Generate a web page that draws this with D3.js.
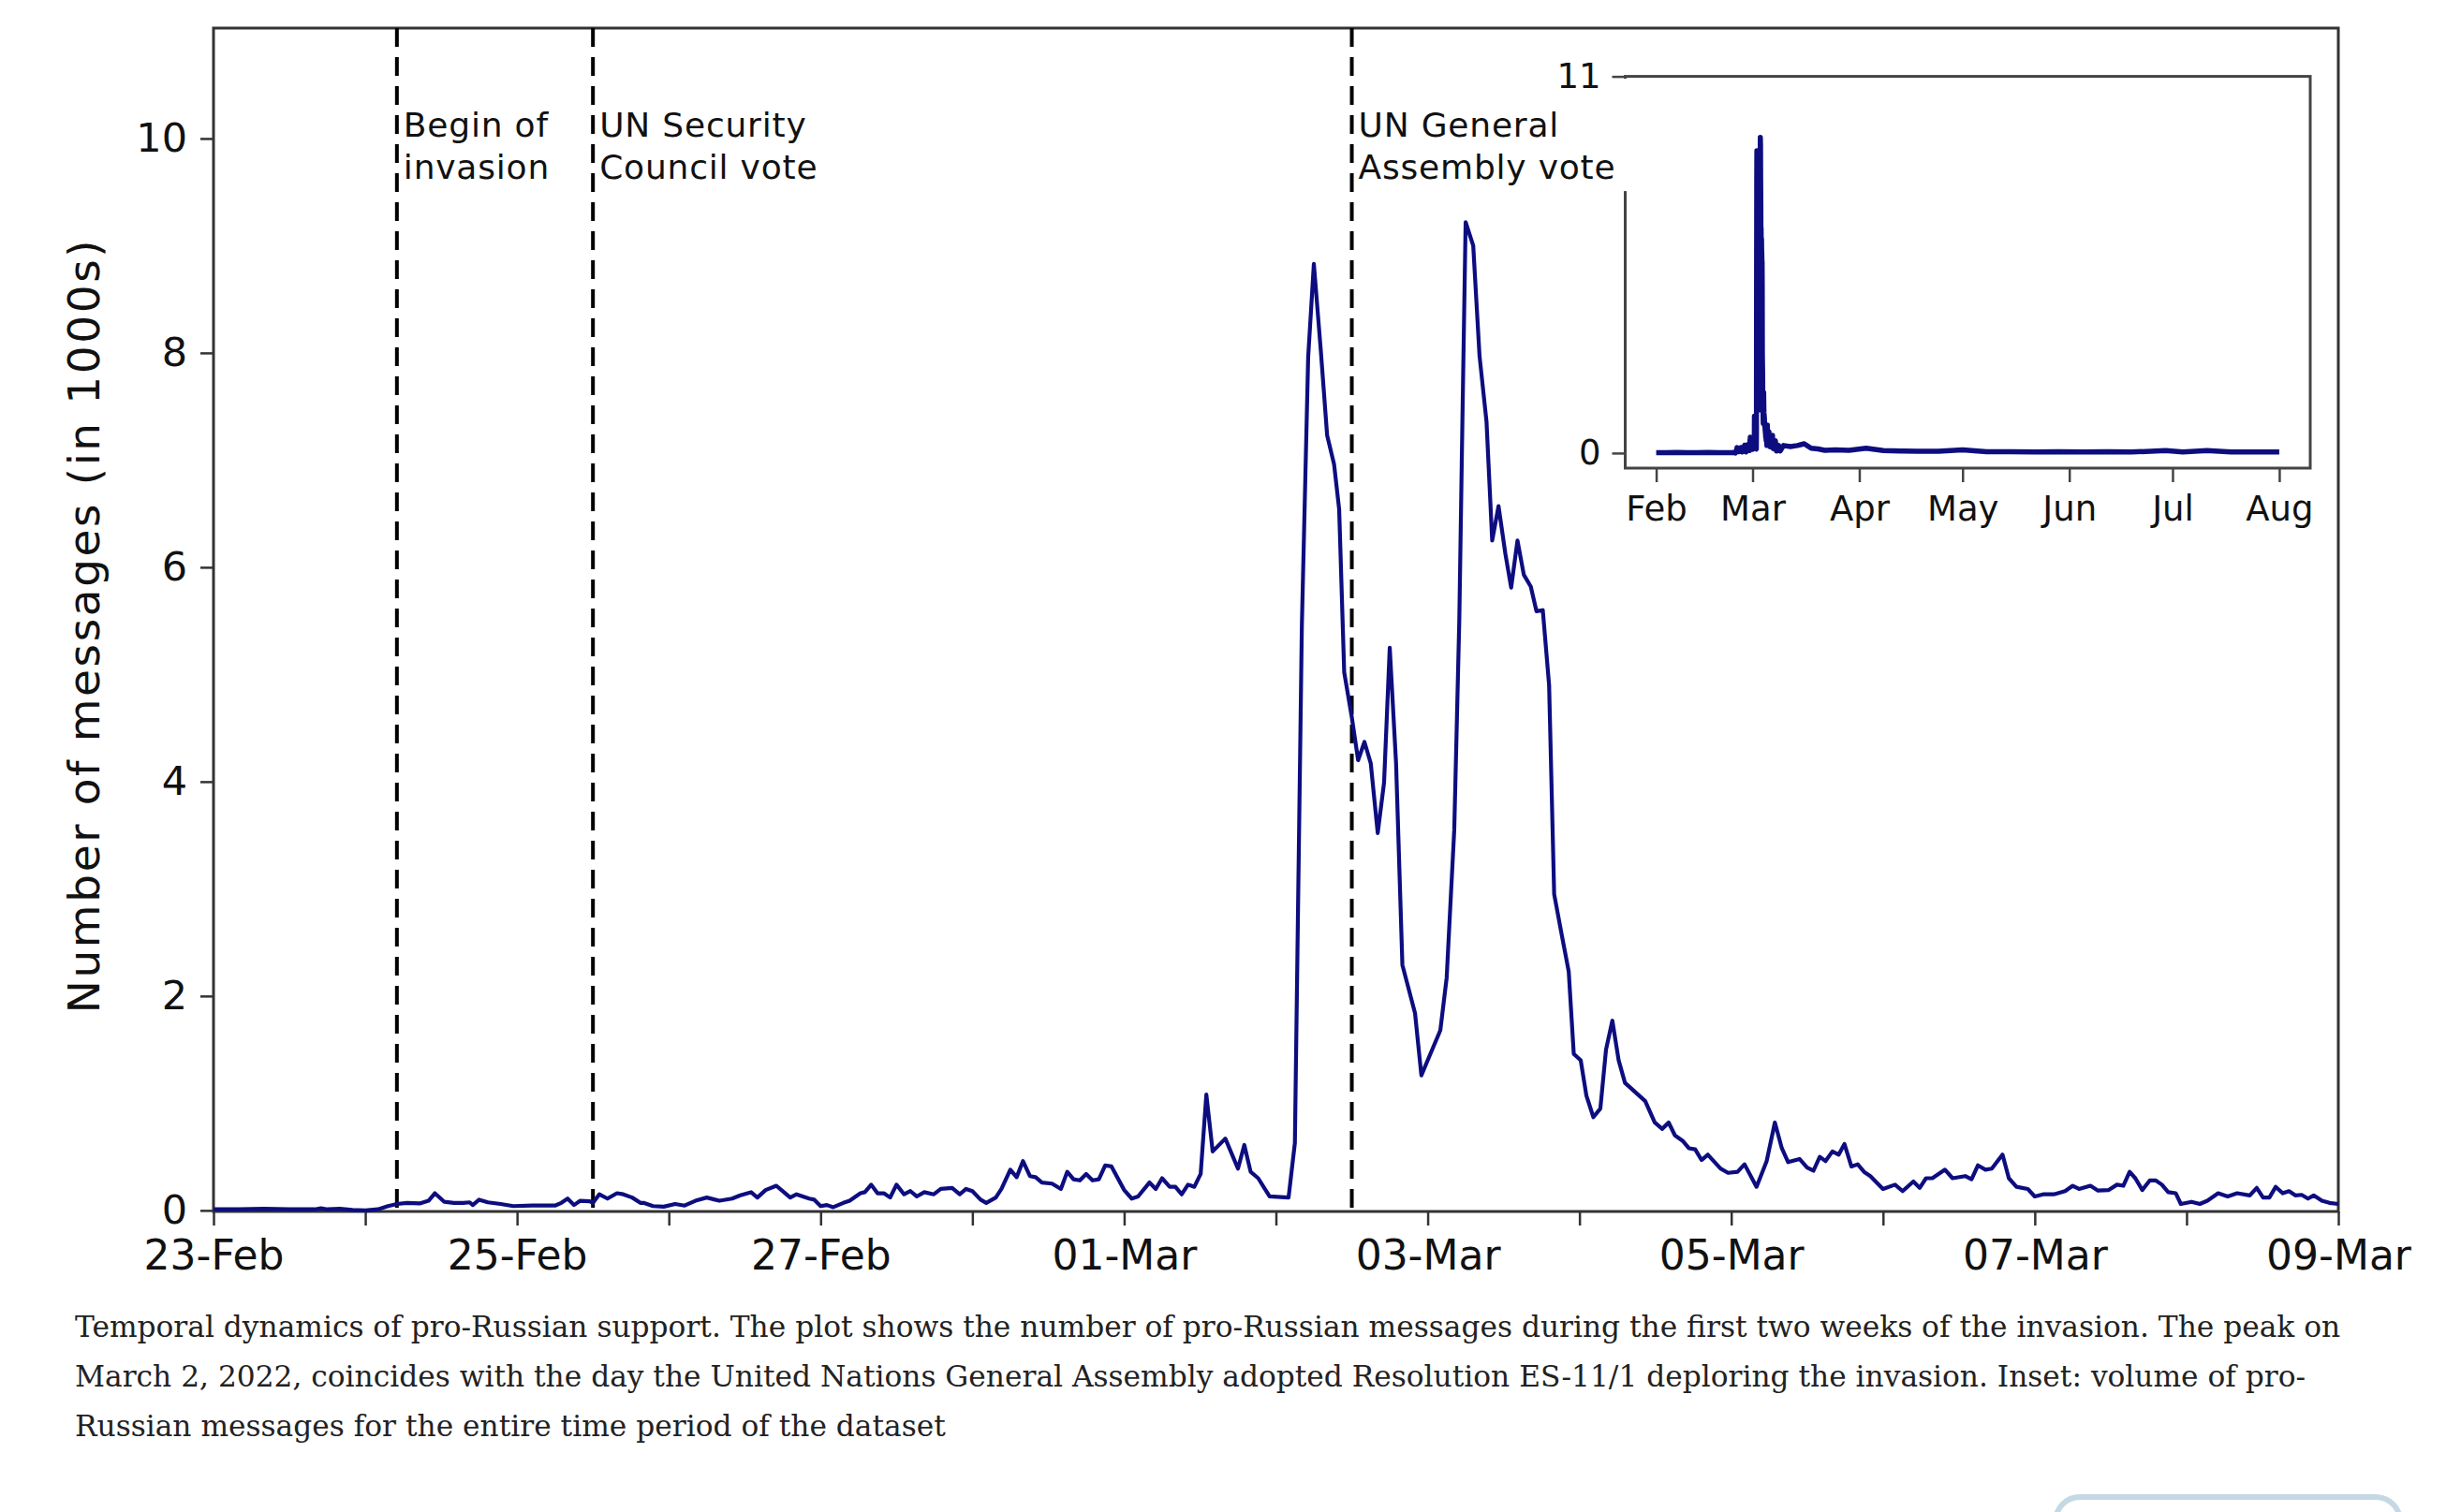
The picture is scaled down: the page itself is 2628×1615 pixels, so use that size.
<!DOCTYPE html>
<html>
<head>
<meta charset="utf-8">
<script src="https://cdn.jsdelivr.net/npm/d3@7"></script>
<style>
  body { margin: 0; background: #fff; }
  svg { display: block; }
</style>
</head>
<body>
<div id="chart"></div>
<script>
// Hourly pro-Russian messages (in 1000s), [hours since 23-Feb 00:00, value]
const mainSeries = [
  [0,0.01],[4,0.01],[8,0.015],[12,0.01],[16,0.01],[17,0.02],[18,0.01],[20,0.015],[22,0.005],[24,0.0],
  [26,0.01],[27.6,0.04],[29,0.06],[30.6,0.07],[32.6,0.065],[34,0.09],[35,0.16],[36.5,0.08],[38,0.07],
  [39.5,0.07],[40.5,0.075],[41,0.05],[42,0.1],[43.4,0.075],[45.4,0.06],[47.4,0.04],[50.4,0.045],[54,0.045],
  [55,0.07],[56,0.11],[57,0.05],[58,0.09],[59.5,0.085],[60,0.07],[61,0.15],[62.3,0.11],[63.8,0.16],
  [64.8,0.15],[66.2,0.12],[67.5,0.07],[68,0.07],[69.5,0.04],[71.2,0.035],[73,0.06],[74.5,0.045],
  [76.2,0.09],[78,0.12],[80,0.09],[82,0.11],[83.3,0.14],[85,0.17],[86,0.12],[87.3,0.19],[89,0.23],
  [91.2,0.12],[92.2,0.15],[94.2,0.11],[95,0.1],[96,0.04],[97,0.05],[98,0.03],[99.6,0.07],[100.6,0.09],
  [102.3,0.16],[103,0.17],[104,0.24],[105,0.16],[106,0.16],[107,0.12],[108,0.24],[109.2,0.15],
  [110.2,0.18],[111.2,0.13],[112.4,0.17],[113.9,0.15],[115,0.2],[116.8,0.21],[118,0.15],[119,0.2],
  [120,0.18],[121.3,0.1],[122.2,0.07],[123.7,0.12],[124.6,0.2],[126,0.38],[127,0.31],[128,0.46],
  [129.1,0.32],[130,0.31],[131,0.26],[132.6,0.25],[134,0.2],[135,0.36],[136,0.29],[137,0.28],[138,0.34],
  [139,0.28],[140,0.29],[141,0.42],[142,0.41],[144,0.19],[145.2,0.11],[146.2,0.13],[148,0.26],[149,0.2],
  [150,0.3],[151.2,0.22],[152.1,0.22],[153.1,0.15],[154.1,0.24],[155.1,0.22],[156.1,0.34],[157,1.08],
  [158,0.55],[160,0.67],[162,0.39],[163,0.61],[164,0.36],[165.2,0.3],[167,0.13],[170,0.12],[171,0.63],
  [172.1,5.45],[173.1,7.96],[174,8.83],[175.1,8.02],[176.1,7.23],[177.2,6.96],[178,6.54],[178.8,5.02],
  [180,4.6],[181,4.2],[182,4.37],[183,4.17],[184.1,3.52],[185.1,3.99],[186,5.25],[187,4.17],[188,2.29],
  [190,1.84],[191,1.26],[194,1.68],[195,2.17],[196.2,3.55],[197,5.51],[197.5,7.4],[198,9.22],[199.2,9.0],
  [200.2,7.97],[201.3,7.36],[202.2,6.25],[203.2,6.57],[204.3,6.12],[205.2,5.81],[206.2,6.25],[207.2,5.93],
  [208.3,5.82],[209.2,5.59],[210.2,5.6],[211.2,4.9],[212,2.95],[213.2,2.57],[214.3,2.23],[215.1,1.46],
  [216.2,1.4],[217.1,1.07],[218.2,0.87],[219.3,0.95],[220.2,1.5],[221.2,1.77],[222.2,1.4],[223.2,1.19],
  [226.4,1.02],[227.9,0.82],[229.1,0.76],[230.1,0.82],[231.1,0.7],[232.3,0.65],[233.3,0.58],[234.3,0.57],
  [235.3,0.47],[236.3,0.52],[238.3,0.39],[239.5,0.35],[241,0.36],[242.1,0.43],[244,0.22],[245.6,0.46],
  [246.9,0.82],[248,0.58],[249,0.45],[250.8,0.48],[252,0.4],[253,0.37],[254,0.5],[254.9,0.46],[256,0.55],
  [257,0.52],[257.9,0.62],[259,0.41],[260,0.43],[261,0.36],[262,0.32],[264,0.2],[265.9,0.24],[267.1,0.18],
  [268.8,0.27],[269.8,0.21],[270.8,0.3],[271.8,0.3],[273.8,0.38],[275,0.3],[277,0.32],[278,0.29],
  [279,0.42],[280.2,0.38],[281.2,0.39],[282.9,0.52],[283.9,0.3],[285.1,0.22],[286.9,0.2],[288,0.13],
  [289.3,0.15],[291,0.15],[292.8,0.18],[294,0.23],[295,0.2],[296.8,0.23],[298,0.185],[299.7,0.19],
  [301,0.24],[302,0.23],[303,0.36],[303.9,0.3],[305,0.19],[306.2,0.28],[307.1,0.28],[308.1,0.24],
  [309.1,0.17],[310.3,0.16],[311.1,0.06],[312.8,0.08],[314.1,0.06],[315.3,0.09],[317,0.16],[318.5,0.13],
  [320,0.16],[322,0.14],[323.1,0.21],[324.1,0.12],[325.1,0.12],[326.1,0.22],[327.2,0.16],[328.2,0.18],
  [329.2,0.14],[330.2,0.145],[331.2,0.11],[332.1,0.14],[333.4,0.09],[334.6,0.07],[336,0.06]
];

// inset: rest of the dataset (daily-ish readings, in 1000s)
const insetEarly = [
  ["2022-02-01",0.01],["2022-02-04",0.01],["2022-02-07",0.02],["2022-02-10",0.01],
  ["2022-02-13",0.01],["2022-02-16",0.02],["2022-02-19",0.01],["2022-02-22",0.01]
];
const insetLate = [
  ["2022-03-10",0.22],["2022-03-12",0.19],["2022-03-14",0.22],["2022-03-16",0.27],["2022-03-18",0.14],
  ["2022-03-20",0.12],["2022-03-22",0.08],["2022-03-25",0.09],["2022-03-29",0.08],["2022-04-03",0.14],
  ["2022-04-08",0.07],["2022-04-13",0.06],["2022-04-18",0.05],["2022-04-24",0.05],["2022-05-01",0.09],
  ["2022-05-08",0.04],["2022-05-15",0.04],["2022-05-22",0.03],["2022-05-29",0.04],["2022-06-05",0.03],
  ["2022-06-12",0.04],["2022-06-19",0.03],["2022-06-29",0.07],["2022-07-04",0.03],["2022-07-11",0.07],
  ["2022-07-18",0.03],["2022-07-25",0.03],["2022-08-01",0.03]
];

// event markers, hours since 23-Feb 00:00
const events = [
  { hour: 29,  label: ["Begin of", "invasion"] },
  { hour: 60,  label: ["UN Security", "Council vote"] },
  { hour: 180, label: ["UN General", "Assembly vote"] }
];

const yTicks = [0, 2, 4, 6, 8, 10];
const insetYTicks = [0, 11];
const insetMonths = ["2022-02-01","2022-03-01","2022-04-01","2022-05-01","2022-06-01","2022-07-01","2022-08-01"];

const captionLines = [
  "Temporal dynamics of pro-Russian support. The plot shows the number of pro-Russian messages during the first two weeks of the invasion. The peak on",
  "March 2, 2022, coincides with the day the United Nations General Assembly adopted Resolution ES-11/1 deploring the invasion. Inset: volume of pro-",
  "Russian messages for the entire time period of the dataset"
];

const W = 2628, H = 1615;
const lineColor = "#0d0d80";
const font = "'DejaVu Sans', Verdana, sans-serif";
const t0 = Date.UTC(2022, 1, 23);
const hourToDate = h => new Date(t0 + h * 3600e3);

const svg = d3.select("#chart").append("svg")
  .attr("width", W).attr("height", H)
  .style("background", "#fff");

// ---- main plot ----
const plot = { left: 228, right: 2497, top: 30, bottom: 1294 };

const x = d3.scaleUtc()
  .domain([hourToDate(0), hourToDate(336)])
  .range([plot.left, plot.right]);
const y = d3.scaleLinear()
  .domain([-0.01, 11.03])
  .range([plot.bottom, plot.top]);

// x axis
const fmt = d3.utcFormat("%d-%b");
const xAxis = svg.append("g")
  .attr("transform", `translate(0,${plot.bottom})`)
  .call(d3.axisBottom(x)
    .ticks(d3.utcDay.every(1))
    .tickSize(15)
    .tickPadding(16)
    .tickFormat((d, i) => i % 2 === 0 ? fmt(d) : ""));
xAxis.select(".domain").remove();
xAxis.selectAll(".tick line").attr("stroke", "#333").attr("stroke-width", 2.5);
xAxis.selectAll("text").attr("font-family", font).attr("font-size", 44).attr("fill", "#111");

// y axis
const yAxis = svg.append("g")
  .attr("transform", `translate(${plot.left},0)`)
  .call(d3.axisLeft(y).tickValues(yTicks).tickSize(14).tickPadding(14));
yAxis.select(".domain").remove();
yAxis.selectAll(".tick line").attr("stroke", "#333").attr("stroke-width", 2.5);
yAxis.selectAll("text").attr("font-family", font).attr("font-size", 43).attr("fill", "#111");

// y label
svg.append("text")
  .attr("transform", "translate(106,668) rotate(-90)")
  .attr("text-anchor", "middle")
  .attr("font-family", font)
  .attr("font-size", 47)
  .attr("letter-spacing", 2.6)
  .attr("fill", "#111")
  .text("Number of messages (in 1000s)");

// frame
svg.append("rect")
  .attr("x", plot.left).attr("y", plot.top)
  .attr("width", plot.right - plot.left).attr("height", plot.bottom - plot.top)
  .attr("fill", "none").attr("stroke", "#333").attr("stroke-width", 3);

// event lines
svg.selectAll(".event")
  .data(events)
  .enter()
  .append("line")
  .attr("class", "event")
  .attr("x1", d => x(hourToDate(d.hour))).attr("x2", d => x(hourToDate(d.hour)))
  .attr("y1", plot.top).attr("y2", plot.bottom)
  .attr("stroke", "#000").attr("stroke-width", 4)
  .attr("stroke-dasharray", "20,11");

// main line
const line = d3.line()
  .x(d => x(hourToDate(d[0])))
  .y(d => y(d[1]));
svg.append("path")
  .datum(mainSeries)
  .attr("d", line)
  .attr("fill", "none")
  .attr("stroke", lineColor)
  .attr("stroke-width", 4.2)
  .attr("stroke-linejoin", "round");

// ---- inset ----
const inset = { left: 1735.5, right: 2467, top: 81.6, bottom: 500 };
const xi = d3.scaleUtc()
  .domain([new Date(Date.UTC(2022, 0, 23)), new Date(Date.UTC(2022, 7, 10))])
  .range([inset.left, inset.right]);
const yi = d3.scaleLinear()
  .domain([-0.44, 11])
  .range([inset.bottom, inset.top]);

svg.append("rect")
  .attr("x", inset.left).attr("y", inset.top)
  .attr("width", inset.right - inset.left).attr("height", inset.bottom - inset.top)
  .attr("fill", "#fff").attr("stroke", "#444").attr("stroke-width", 3);

const insetData = []
  .concat(insetEarly.map(d => [new Date(d[0] + "T00:00:00Z"), d[1]]))
  .concat(mainSeries.map(d => [hourToDate(d[0]), d[1]]))
  .concat(insetLate.map(d => [new Date(d[0] + "T00:00:00Z"), d[1]]));

svg.append("path")
  .datum(insetData)
  .attr("d", d3.line().x(d => xi(d[0])).y(d => yi(d[1])))
  .attr("fill", "none")
  .attr("stroke", lineColor)
  .attr("stroke-width", 5.5)
  .attr("stroke-linejoin", "round");

const xiAxis = svg.append("g")
  .attr("transform", `translate(0,${inset.bottom})`)
  .call(d3.axisBottom(xi)
    .tickValues(insetMonths.map(s => new Date(s + "T00:00:00Z")))
    .tickSize(15).tickPadding(15)
    .tickFormat(d3.utcFormat("%b")));
xiAxis.select(".domain").remove();
xiAxis.selectAll(".tick line").attr("stroke", "#444").attr("stroke-width", 2.5);
xiAxis.selectAll("text").attr("font-family", font).attr("font-size", 37).attr("fill", "#111");

// label background hides part of the inset frame, as in the original
svg.append("rect")
  .attr("x", x(hourToDate(180)) + 5).attr("y", inset.top + 2.5)
  .attr("width", inset.left + 3 - x(hourToDate(180)) - 5).attr("height", 120)
  .attr("fill", "#fff");

const yiAxis = svg.append("g")
  .attr("transform", `translate(${inset.left},0)`)
  .call(d3.axisLeft(yi).tickValues(insetYTicks).tickSize(14).tickPadding(12));
yiAxis.select(".domain").remove();
yiAxis.selectAll(".tick line").attr("stroke", "#444").attr("stroke-width", 2.5);
yiAxis.selectAll("text").attr("font-family", font).attr("font-size", 37).attr("fill", "#111");

// event labels
const labels = svg.selectAll(".event-label")
  .data(events)
  .enter()
  .append("text")
  .attr("class", "event-label")
  .attr("font-family", font)
  .attr("font-size", 36)
  .attr("letter-spacing", 0.8)
  .attr("fill", "#111");
labels.selectAll("tspan")
  .data(d => d.label.map((s, i) => ({ s, i, hour: d.hour })))
  .enter()
  .append("tspan")
  .attr("x", d => x(hourToDate(d.hour)) + 7)
  .attr("y", d => 146 + d.i * 45)
  .text(d => d.s);

// ---- caption ----
const capFont = "'DejaVu Serif', Georgia, serif";
const cap = svg.append("g").attr("fill", "#222");
const capTexts = cap.selectAll("text")
  .data(captionLines)
  .enter()
  .append("text")
  .attr("x", 80)
  .attr("y", (d, i) => 1428 + i * 53)
  .attr("font-family", capFont)
  .attr("font-size", 32)
  .text(d => d);
const w0 = capTexts.nodes()[0].getComputedTextLength();
const capSize = 32 * 2420 / w0;
capTexts.attr("font-size", capSize);

// partially visible button at the bottom edge
svg.append("rect")
  .attr("x", 2195).attr("y", 1599)
  .attr("width", 368).attr("height", 60)
  .attr("rx", 26)
  .attr("fill", "#fff")
  .attr("stroke", "#c4d9e4")
  .attr("stroke-width", 6);
</script>
</body>
</html>
